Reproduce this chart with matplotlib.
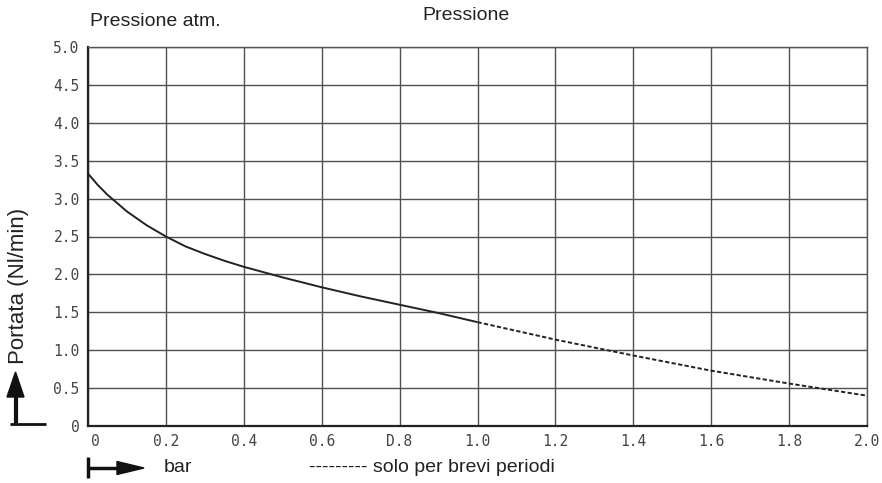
import numpy as np
import matplotlib.pyplot as plt
import matplotlib.transforms as mtransforms
from matplotlib.patches import Polygon
from matplotlib.lines import Line2D

# curve (bar -> Nl/min)
press_solid = [0, 0.025, 0.05, 0.1, 0.15, 0.2, 0.25, 0.3, 0.35, 0.4, 0.5, 0.6, 0.7, 0.8, 0.9, 1.0]
flow_solid = [3.33, 3.18, 3.05, 2.83, 2.65, 2.50, 2.37, 2.27, 2.18, 2.10, 1.96, 1.83, 1.71, 1.60, 1.49, 1.37]
press_dash = [1.0, 1.2, 1.4, 1.6, 1.8, 2.0]
flow_dash = [1.37, 1.14, 0.93, 0.73, 0.56, 0.40]

xticks = [0, 0.2, 0.4, 0.6, 0.8, 1.0, 1.2, 1.4, 1.6, 1.8, 2.0]
xlabels = ['0', '0.2', '0.4', '0.6', 'D.8', '1.0', '1.2', '1.4', '1.6', '1.8', '2.0']
yticks = [0, 0.5, 1.0, 1.5, 2.0, 2.5, 3.0, 3.5, 4.0, 4.5, 5.0]
ylabels = ['0', '0.5', '1.0', '1.5', '2.0', '2.5', '3.0', '3.5', '4.0', '4.5', '5.0']

W, H = 882, 483
fig = plt.figure(figsize=(W / 100, H / 100), dpi=100)
ax = fig.add_axes([88 / W, 1 - 426 / H, (867 - 88) / W, (426 - 47) / H])

ax.plot(press_solid, flow_solid, color='#222222', lw=1.4, solid_capstyle='butt')
ax.plot(press_dash, flow_dash, color='#222222', lw=1.4, ls=(0, (2.2, 1.2)))

ax.set_xlim(0, 2.0)
ax.set_ylim(0, 5.0)
ax.set_xticks(xticks)
ax.set_yticks(yticks)
ax.grid(True, color='#505050', lw=1.0)
ax.set_axisbelow(True)
ax.tick_params(length=0, pad=6)
tk = dict(fontfamily='DejaVu Sans Mono', fontsize=10.5, color='#444444')
ax.set_xticklabels(xlabels, **tk)
ax.set_yticklabels(ylabels, **tk)
shift = mtransforms.ScaledTranslation(7 / 100, 0, fig.dpi_scale_trans)
for lab in ax.get_xticklabels():
    if lab.get_text() == '0':
        lab.set_transform(lab.get_transform() + shift)
for s in ['top', 'right']:
    ax.spines[s].set_color('#555555')
    ax.spines[s].set_linewidth(1.0)
for s in ['left', 'bottom']:
    ax.spines[s].set_color('#222222')
    ax.spines[s].set_linewidth(1.6)

txt = dict(fontfamily='Liberation Sans', color='#222222')
fig.text(90 / W, 1 - 21 / H, 'Pressione atm.', fontsize=14, va='center', ha='left', **txt)
fig.text(466 / W, 1 - 15 / H, 'Pressione', fontsize=14, va='center', ha='center', **txt)
fig.text(19 / W, 1 - 286 / H, 'Portata (Nl/min)', fontsize=16, rotation=90,
         va='center', ha='center', **txt)
fig.text(164 / W, 1 - 467 / H, 'bar', fontsize=14, va='center', ha='left', **txt)
fig.text(309 / W, 1 - 467 / H, '--------- solo per brevi periodi', fontsize=14,
         va='center', ha='left', **txt)

# axis direction symbols
def px(x, y):
    return (x / W, 1 - y / H)

k = dict(transform=fig.transFigure, color='#111111', solid_capstyle='butt')
fig.add_artist(Line2D([px(15.5, 0)[0], px(15.5, 0)[0]], [px(0, 425)[1], px(0, 395)[1]], lw=3, **k))
fig.add_artist(Line2D([px(10, 0)[0], px(46, 0)[0]], [px(0, 424)[1], px(0, 424)[1]], lw=2, **k))
fig.add_artist(Polygon([px(7, 397), px(24, 397), px(15.5, 372)], closed=True,
                       transform=fig.transFigure, color='#111111'))
fig.add_artist(Line2D([px(88, 0)[0], px(88, 0)[0]], [px(0, 457)[1], px(0, 478)[1]], lw=2.5, **k))
fig.add_artist(Line2D([px(88, 0)[0], px(120, 0)[0]], [px(0, 468)[1], px(0, 468)[1]], lw=2.5, **k))
fig.add_artist(Polygon([px(117, 461.5), px(117, 474.5), px(144, 468)], closed=True,
                       transform=fig.transFigure, color='#111111'))

fig.savefig('out.png', dpi=100)
